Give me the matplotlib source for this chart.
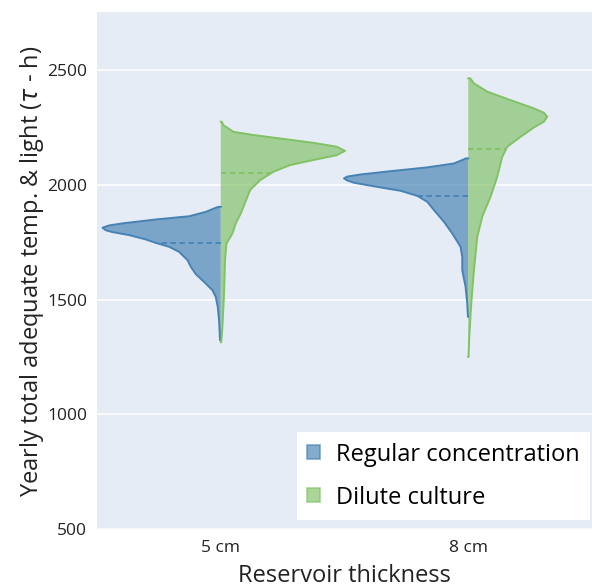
import numpy as np
import matplotlib.pyplot as plt
from matplotlib.patches import Patch
from typing import List

plt.rcParams['font.family'] = ['Open Sans', 'DejaVu Sans']
plt.rcParams['mathtext.fontset'] = 'dejavusans'

categories = ["5 cm", "8 cm"]
series_names = ["Regular concentration", "Dilute culture"]

# outline of each half violin: levels (tau-h) and relative density
reg_5_levels = [1904, 1900, 1882, 1863, 1849, 1832, 1823, 1813, 1802, 1794, 1781, 1762,
                1747, 1730, 1708, 1672, 1643, 1611, 1577, 1541, 1512, 1468, 1410, 1323]
reg_5_density = [2.3, 5, 15, 31.7, 65, 98.3, 111.7, 118.3, 115, 108.3, 91.7, 75,
                 65, 51.7, 41.7, 33.3, 30, 25, 16.7, 8.3, 5, 3, 1.7, 0.7]
reg_5_median = 1747

dil_5_levels = [2275, 2260, 2231, 2217, 2202, 2183, 2166, 2148, 2129, 2108, 2086, 2057,
                2020, 1977, 1904, 1875, 1832, 1788, 1744, 1672, 1526, 1381, 1314]
dil_5_density = [1, 2.7, 12.7, 32.7, 59.3, 92.7, 116, 124.3, 116, 92.7, 69.3, 52.7,
                 39.3, 29.3, 22.7, 20, 15, 11.7, 5.7, 4.3, 3.3, 1.7, 0.5]
dil_5_median = 2053

reg_8_levels = [2115, 2111, 2093, 2076, 2061, 2045, 2036, 2028, 2019, 2009, 1991, 1974,
                1952, 1926, 1890, 1839, 1788, 1730, 1686, 1628, 1556, 1483, 1425]
reg_8_density = [2.7, 4.3, 14.3, 41, 74.3, 107.7, 121, 124.3, 121, 114.3, 91, 67.7,
                 51, 41, 34.3, 24.3, 16, 7.7, 6, 6, 2.7, 1, 0.3]
reg_8_median = 1952

dil_8_levels = [2464, 2442, 2406, 2369, 2333, 2314, 2297, 2275, 2250, 2209, 2166, 2122,
                2035, 1948, 1861, 1773, 1628, 1483, 1338, 1250]
dil_8_density = [2, 5.7, 19, 42.3, 65.7, 75.7, 79, 75.7, 65.7, 52.3, 39, 34,
                 29, 22.3, 14, 9, 5.7, 3, 1, 0.3]
dil_8_median = 2157

yticks = [500, 1000, 1500, 2000, 2500]

BLUE = "#4682b4"
GREEN = "#82c265"


def half_violin(ax, pos: float, levels: List[float], dens: List[float],
                median: float, side: int, color: str, scale: float) -> None:
    y = np.array(levels, dtype=float)
    w = np.array(dens, dtype=float) * scale * side
    xs = pos + w
    # fill the shape, closed on the centre line
    ax.fill(np.r_[pos, xs, pos], np.r_[y[0], y, y[-1]], color=color,
            alpha=0.67, lw=0, zorder=2)
    ax.plot(np.r_[pos, xs, pos], np.r_[y[0], y, y[-1]], color=color, lw=1.4, zorder=3)
    # median dash across the half
    order = np.argsort(y)
    mw = np.interp(median, y[order], w[order])
    ax.plot([pos, pos + mw], [median, median], color=color, lw=1.3,
            ls=(0, (3, 2)), zorder=4)


def main() -> None:
    fig = plt.figure(figsize=(5.92, 5.88), dpi=100)
    ax = fig.add_axes([97 / 592, 1 - 530 / 588, 495 / 592, 518 / 588])
    ax.set_facecolor("#e5ecf6")

    all_dens = reg_5_density + dil_5_density + reg_8_density + dil_8_density
    scale = 0.502 / max(all_dens)

    half_violin(ax, 0, reg_5_levels, reg_5_density, reg_5_median, -1, BLUE, scale)
    half_violin(ax, 0, dil_5_levels, dil_5_density, dil_5_median, 1, GREEN, scale)
    half_violin(ax, 1, reg_8_levels, reg_8_density, reg_8_median, -1, BLUE, scale)
    half_violin(ax, 1, dil_8_levels, dil_8_density, dil_8_median, 1, GREEN, scale)

    ax.set_xlim(-0.5, 1.5)
    ax.set_ylim(496, 2753)
    ax.set_xticks([0, 1])
    ax.set_xticklabels(categories)
    ax.set_yticks(yticks)
    ax.grid(axis="y", color="white", lw=1.1, zorder=0)
    ax.set_axisbelow(True)
    for s in ax.spines.values():
        s.set_visible(False)
    ax.tick_params(length=0, labelsize=12.5, colors="#222222", pad=7)

    ax.set_xlabel("Reservoir thickness", fontsize=17, color="#222222", labelpad=6)
    ax.set_ylabel(r"Yearly total adequate temp. & light ($\tau$ - h)",
                  fontsize=17, color="#222222", labelpad=1)

    handles = [Patch(facecolor=BLUE, edgecolor=BLUE, alpha=0.67, lw=1.2),
               Patch(facecolor=GREEN, edgecolor=GREEN, alpha=0.67, lw=1.2)]
    leg = ax.legend(handles, series_names, loc="lower right",
                    bbox_to_anchor=(0.996, 0.019), fontsize=17, frameon=True,
                    fancybox=False, framealpha=1, edgecolor="white",
                    handlelength=0.55, handleheight=0.55, handletextpad=0.65,
                    labelspacing=0.8, borderpad=0.45, borderaxespad=0)
    leg.get_frame().set_linewidth(0)

    fig.savefig("out.png", dpi=100)


if __name__ == "__main__":
    main()
